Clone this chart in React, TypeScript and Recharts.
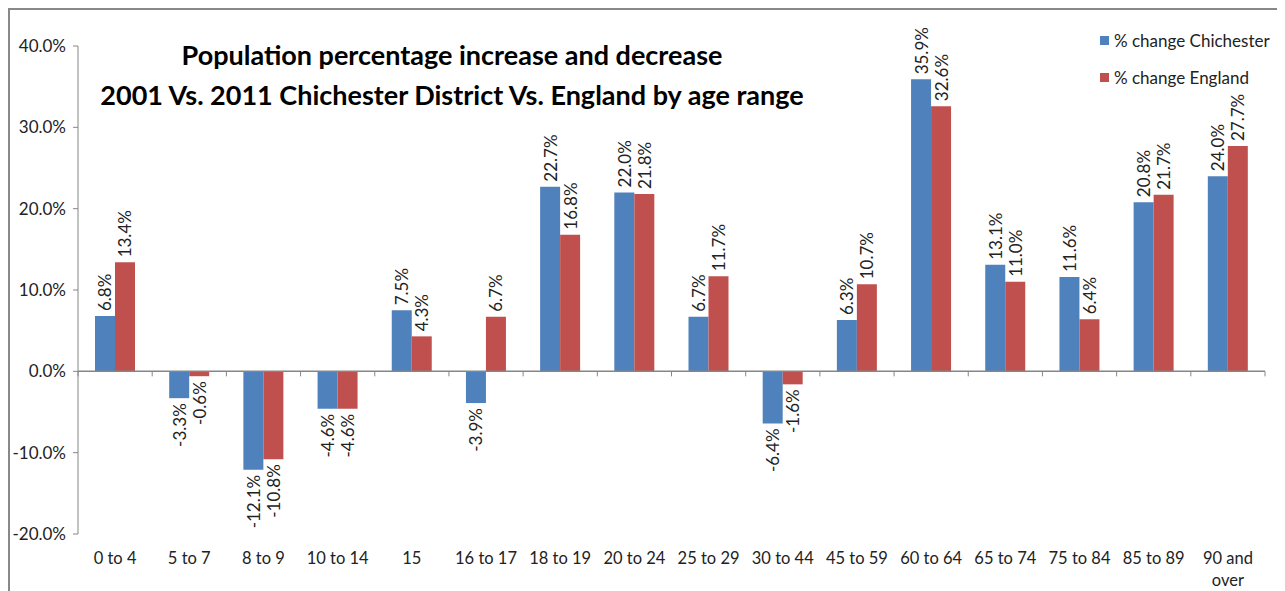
import { BarChart, Bar, XAxis, YAxis, ReferenceLine, LabelList, Text } from 'recharts';

const categories = [
  '0 to 4', '5 to 7', '8 to 9', '10 to 14', '15', '16 to 17', '18 to 19', '20 to 24',
  '25 to 29', '30 to 44', '45 to 59', '60 to 64', '65 to 74', '75 to 84', '85 to 89', '90 and over',
];
const chichester = [6.8, -3.3, -12.1, -4.6, 7.5, -3.9, 22.7, 22.0, 6.7, -6.4, 6.3, 35.9, 13.1, 11.6, 20.8, 24.0];
const england = [13.4, -0.6, -10.8, -4.6, 4.3, 6.7, 16.8, 21.8, 11.7, -1.6, 10.7, 32.6, 11.0, 6.4, 21.7, 27.7];
const yTicks = [-20, -10, 0, 10, 20, 30, 40];

const BLUE = '#4F81BD';
const RED = '#C0504D';
const AXIS = '#868686';
const FONT = 'Lato, "Noto Sans", sans-serif';

const data = categories.map((name, i) => ({ name, chichester: chichester[i], england: england[i] }));

const renderLabel = (props: any) => {
  const { x, y, width, height, value } = props;
  const cx = x + width / 2;
  const top = Math.min(y, y + height);
  const bottom = Math.max(y, y + height);
  const pos = value >= 0;
  const ay = pos ? top - 5 : bottom + 5;
  return (
    <text
      x={cx}
      y={ay}
      transform={`rotate(-90 ${cx} ${ay})`}
      textAnchor={pos ? 'start' : 'end'}
      dominantBaseline="central"
      fontSize={17}
      fontFamily={FONT}
      fill="#222"
    >
      {value.toFixed(1)}%
    </text>
  );
};

const CategoryTick = (props: any) => {
  const { x, y, payload } = props;
  return (
    <Text
      x={x}
      y={y + 10}
      width={72}
      lineHeight={22}
      textAnchor="middle"
      verticalAnchor="start"
      fontSize={16.5}
      fontFamily={FONT}
      fill="#222"
    >
      {payload.value}
    </Text>
  );
};

// zero line with category boundary tick marks, like Excel's axis crossing at 0
const ZeroAxis = (props: any) => {
  const { x1, x2, y1 } = props;
  const n = categories.length;
  const step = (x2 - x1) / n;
  return (
    <g>
      <line x1={x1} x2={x2} y1={y1} y2={y1} stroke={AXIS} strokeWidth={1.5} />
      {Array.from({ length: n + 1 }, (_, i) => (
        <line key={i} x1={x1 + i * step} x2={x1 + i * step} y1={y1} y2={y1 + 5} stroke={AXIS} strokeWidth={1} />
      ))}
    </g>
  );
};

export default function App() {
  return (
    <div
      style={{
        position: 'relative',
        width: 1277,
        height: 600,
        borderTop: '2px solid #888',
        borderLeft: '2px solid #888',
        boxSizing: 'border-box',
        overflow: 'hidden',
        fontFamily: FONT,
      }}
    >
      <BarChart
        width={1275}
        height={581}
        data={data}
        margin={{ top: 36, right: 20, bottom: 17, left: 0 }}
        barGap={0}
        barSize={20}
      >
        <YAxis
          domain={[-20, 40]}
          ticks={yTicks}
          width={68}
          tickSize={5}
          stroke={AXIS}
          tickFormatter={(v: number) => `${v.toFixed(1)}%`}
          tick={{ fontSize: 17, fontFamily: FONT, fill: '#222', dx: -5 }}
          allowDataOverflow
        />
        <XAxis dataKey="name" height={40} axisLine={false} tickLine={false} tick={<CategoryTick />} interval={0} />
        <ReferenceLine y={0} shape={<ZeroAxis />} />
        <Bar dataKey="chichester" fill={BLUE} isAnimationActive={false}>
          <LabelList dataKey="chichester" content={renderLabel} />
        </Bar>
        <Bar dataKey="england" fill={RED} isAnimationActive={false}>
          <LabelList dataKey="england" content={renderLabel} />
        </Bar>
      </BarChart>

      <div
        style={{
          position: 'absolute',
          left: 0,
          top: 25,
          width: 884,
          textAlign: 'center',
          fontWeight: 700,
          fontSize: 27,
          lineHeight: '40px',
          color: '#000',
        }}
      >
        <div>Population percentage increase and decrease</div>
        <div>2001 Vs. 2011 Chichester District Vs. England by age range</div>
      </div>

      <div style={{ position: 'absolute', left: 1090, top: 20, fontSize: 17, color: '#222' }}>
        {[
          { label: '% change Chichester', color: BLUE },
          { label: '% change England', color: RED },
        ].map((d) => (
          <div key={d.label} style={{ display: 'flex', alignItems: 'center', height: 20, marginBottom: 17 }}>
            <span style={{ width: 9, height: 9, background: d.color, marginRight: 5 }} />
            {d.label}
          </div>
        ))}
      </div>
    </div>
  );
}
